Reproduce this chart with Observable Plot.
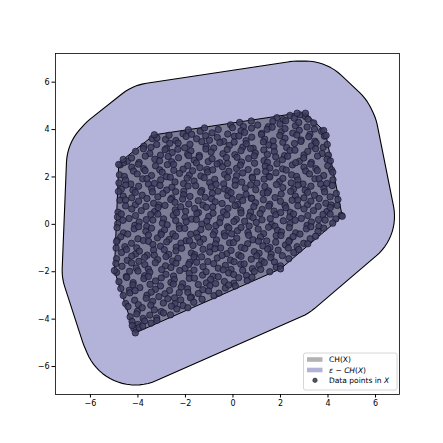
<!DOCTYPE html>
<html><head><meta charset="utf-8">
<script src="https://cdn.jsdelivr.net/npm/d3@7"></script>
<script src="https://cdn.jsdelivr.net/npm/@observablehq/plot@0.6"></script>
<style>body{margin:0;background:#fff;} svg{display:block}</style>
</head><body><div id="chart"></div>
<script>
// Convex hull CH(X) vertices (clockwise)
const hullX = [-3.31, 2.70, 3.05, 3.82, 3.92, 4.60, 2.00, -4.11, -4.24, -4.99, -4.81, -4.62];
const hullY = [ 3.78, 4.69, 4.69, 3.96, 3.75, 0.34, -1.88, -4.58, -4.27, -1.95, 2.53, 2.74];
const eps = 2.2;
const xTicks = [-6, -4, -2, 0, 2, 4, 6];
const yTicks = [-6, -4, -2, 0, 2, 4, 6];
const legendLabels = ["CH(X)", "ε − CH(X)", "Data points in X"];
// Data points in X
const points = [
[1.85,4.5],[2.12,4.42],[2.4,4.6],[2.58,4.48],[2.83,4.62],[3.05,4.55],[3.16,4.44],
[-0.1,4.2],[0.28,4.3],[0.44,4.13],[0.77,4.36],[1.04,4.19],[1.49,4.12],[1.68,4.35],[1.98,4.23],[2.22,4.37],[2.63,4.16],[2.77,4.3],[3.12,4.11],[3.4,4.28],
[-2.1,3.82],[-1.88,3.99],[-1.38,3.93],[-1.2,4.07],[-0.88,3.86],[-0.62,4.0],[-0.22,3.81],[-0.02,4.08],[0.34,3.95],[0.49,3.88],[0.78,4.06],[1.21,3.84],[1.44,4.01],[1.65,4.1],[2.03,3.91],[2.19,4.04],[2.52,3.85],[2.79,3.97],[3.24,3.8],[3.43,4.02],[3.73,3.93],
[-3.4,3.62],[-3.2,3.65],[-2.84,3.58],[-2.69,3.76],[-2.4,3.54],[-1.97,3.71],[-1.74,3.8],[-1.53,3.61],[-1.15,3.74],[-0.99,3.55],[-0.66,3.67],[-0.39,3.5],[0.06,3.72],[0.25,3.73],[0.55,3.53],[0.79,3.68],[1.2,3.79],[1.34,3.59],[1.69,3.52],[1.97,3.75],[2.19,3.63],[2.69,3.77],[2.87,3.56],[3.19,3.7],[3.45,3.51],[3.85,3.72],
[-3.75,3.3],[-3.45,3.25],[-3.21,3.37],[-2.8,3.2],[-2.66,3.42],[-2.31,3.43],[-2.03,3.23],[-1.81,3.38],[-1.31,3.49],[-1.13,3.29],[-0.81,3.22],[-0.55,3.45],[-0.15,3.33],[0.05,3.47],[0.41,3.26],[0.56,3.4],[0.85,3.21],[1.28,3.48],[1.51,3.35],[1.72,3.28],[2.1,3.46],[2.26,3.24],[2.59,3.41],[2.86,3.5],[3.31,3.31],[3.5,3.44],[3.8,3.25],[3.97,3.37],
[-4.1,3.08],[-3.77,3.19],[-3.5,2.99],[-3.05,2.92],[-2.86,3.15],[-2.56,3.03],[-2.32,3.17],[-1.91,2.96],[-1.77,3.1],[-1.42,2.91],[-1.14,3.18],[-0.92,3.05],[-0.42,2.98],[-0.24,3.16],[0.08,2.94],[0.34,3.11],[0.74,3.2],[0.94,3.01],[1.3,3.14],[1.45,2.95],[1.74,3.07],[2.17,2.9],[2.4,3.12],[2.61,3.13],[2.99,2.93],[3.15,3.08],[3.48,3.19],[3.75,2.99],[4.02,2.92],
[-4.45,2.66],[-4.27,2.8],[-3.95,2.61],[-3.69,2.88],[-3.29,2.75],[-3.09,2.68],[-2.73,2.86],[-2.58,2.64],[-2.29,2.81],[-1.86,2.9],[-1.63,2.71],[-1.42,2.84],[-1.04,2.65],[-0.88,2.77],[-0.55,2.6],[-0.28,2.82],[0.17,2.83],[0.36,2.63],[0.66,2.78],[0.9,2.89],[1.31,2.69],[1.45,2.62],[1.8,2.85],[2.08,2.73],[2.3,2.87],[2.8,2.66],[2.98,2.8],[3.3,2.61],[3.56,2.88],[3.96,2.75],[4.1,2.68],
[-4.75,2.51],[-4.61,2.6],[-4.26,2.41],[-3.98,2.54],[-3.76,2.35],[-3.26,2.47],[-3.08,2.3],[-2.76,2.52],[-2.5,2.53],[-2.1,2.33],[-1.9,2.48],[-1.54,2.59],[-1.39,2.39],[-1.1,2.32],[-0.67,2.55],[-0.44,2.43],[-0.23,2.57],[0.15,2.36],[0.31,2.5],[0.64,2.31],[0.91,2.58],[1.36,2.45],[1.55,2.38],[1.85,2.56],[2.09,2.34],[2.5,2.51],[2.64,2.6],[2.99,2.41],[3.27,2.54],[3.49,2.35],[3.99,2.47],[4.15,2.3],
[-4.78,2.09],[-4.57,2.02],[-4.19,2.25],[-4.03,2.13],[-3.7,2.27],[-3.43,2.06],[-2.98,2.2],[-2.79,2.01],[-2.49,2.28],[-2.25,2.15],[-1.84,2.08],[-1.7,2.26],[-1.35,2.04],[-1.07,2.21],[-0.85,2.3],[-0.35,2.11],[-0.17,2.24],[0.15,2.05],[0.41,2.17],[0.81,2.0],[1.01,2.22],[1.37,2.23],[1.52,2.03],[1.81,2.18],[2.24,2.29],[2.47,2.09],[2.68,2.02],[3.06,2.25],[3.22,2.13],[3.55,2.27],[3.82,2.06],[4.2,2.2],
[-4.8,1.75],[-4.52,1.87],[-4.3,1.7],[-3.8,1.92],[-3.62,1.93],[-3.3,1.73],[-3.04,1.88],[-2.64,1.99],[-2.44,1.79],[-2.08,1.72],[-1.93,1.95],[-1.64,1.83],[-1.21,1.97],[-0.98,1.76],[-0.77,1.9],[-0.39,1.71],[-0.23,1.98],[0.1,1.85],[0.37,1.78],[0.82,1.96],[1.01,1.74],[1.31,1.91],[1.55,2.0],[1.96,1.81],[2.1,1.94],[2.45,1.75],[2.73,1.87],[2.95,1.7],[3.45,1.92],[3.63,1.93],[3.95,1.73],[4.21,1.88],
[-4.7,1.48],[-4.51,1.66],[-4.21,1.44],[-3.97,1.61],[-3.56,1.7],[-3.42,1.51],[-3.07,1.64],[-2.79,1.45],[-2.57,1.57],[-2.07,1.4],[-1.89,1.62],[-1.57,1.63],[-1.31,1.43],[-0.91,1.58],[-0.71,1.69],[-0.35,1.49],[-0.2,1.42],[0.09,1.65],[0.52,1.53],[0.75,1.67],[0.96,1.46],[1.34,1.6],[1.5,1.41],[1.83,1.68],[2.1,1.55],[2.55,1.48],[2.74,1.66],[3.04,1.44],[3.28,1.61],[3.69,1.7],[3.83,1.51],[4.18,1.64],
[-4.82,1.39],[-4.62,1.19],[-4.26,1.12],[-4.11,1.35],[-3.82,1.23],[-3.39,1.37],[-3.16,1.16],[-2.95,1.3],[-2.57,1.11],[-2.41,1.38],[-2.08,1.25],[-1.81,1.18],[-1.36,1.36],[-1.17,1.14],[-0.87,1.31],[-0.63,1.4],[-0.22,1.21],[-0.08,1.34],[0.27,1.15],[0.55,1.27],[0.77,1.1],[1.27,1.32],[1.45,1.33],[1.77,1.13],[2.03,1.28],[2.43,1.39],[2.63,1.19],[2.99,1.12],[3.14,1.35],[3.43,1.23],[3.86,1.37],[4.09,1.16],[4.35,1.3],
[-4.76,1.02],[-4.52,1.03],[-4.11,0.83],[-3.97,0.98],[-3.62,1.09],[-3.34,0.89],[-3.12,0.82],[-2.62,1.05],[-2.44,0.93],[-2.12,1.07],[-1.86,0.86],[-1.46,1.0],[-1.26,0.81],[-0.9,1.08],[-0.75,0.95],[-0.46,0.88],[-0.03,1.06],[0.2,0.84],[0.41,1.01],[0.79,1.1],[0.95,0.91],[1.28,1.04],[1.55,0.85],[2.0,0.97],[2.19,0.8],[2.49,1.02],[2.73,1.03],[3.14,0.83],[3.28,0.98],[3.63,1.09],[3.91,0.89],[4.13,0.82],[4.42,1.05],
[-4.84,0.51],[-4.52,0.78],[-4.26,0.65],[-3.86,0.58],[-3.66,0.76],[-3.3,0.54],[-3.15,0.71],[-2.86,0.8],[-2.43,0.61],[-2.2,0.74],[-1.99,0.55],[-1.61,0.67],[-1.45,0.5],[-1.12,0.72],[-0.85,0.73],[-0.4,0.53],[-0.21,0.68],[0.09,0.79],[0.33,0.59],[0.74,0.52],[0.88,0.75],[1.23,0.63],[1.51,0.77],[1.73,0.56],[2.23,0.7],[2.41,0.51],[2.73,0.78],[2.99,0.65],[3.39,0.58],[3.59,0.76],[3.95,0.54],[4.1,0.71],[4.39,0.8],
[-4.86,0.31],[-4.7,0.44],[-4.37,0.25],[-4.1,0.37],[-3.65,0.2],[-3.46,0.42],[-3.16,0.43],[-2.92,0.23],[-2.51,0.38],[-2.37,0.49],[-2.02,0.29],[-1.74,0.22],[-1.52,0.45],[-1.02,0.33],[-0.84,0.47],[-0.52,0.26],[-0.26,0.4],[0.14,0.21],[0.34,0.48],[0.7,0.35],[0.85,0.28],[1.14,0.46],[1.57,0.24],[1.8,0.41],[2.01,0.5],[2.39,0.31],[2.55,0.44],[2.88,0.25],[3.15,0.37],[3.6,0.2],[3.79,0.42],[4.09,0.43],[4.33,0.23],[4.56,0.38],
[-4.85,0.03],[-4.63,0.17],[-4.13,-0.04],[-3.95,0.1],[-3.63,-0.09],[-3.37,0.18],[-2.97,0.05],[-2.77,-0.02],[-2.41,0.16],[-2.26,-0.06],[-1.97,0.11],[-1.54,0.2],[-1.31,0.01],[-1.1,0.14],[-0.72,-0.05],[-0.56,0.07],[-0.23,-0.1],[0.04,0.12],[0.49,0.13],[0.68,-0.07],[0.98,0.08],[1.22,0.19],[1.63,-0.01],[1.77,-0.08],[2.12,0.15],[2.4,0.03],[2.62,0.17],[3.12,-0.04],[3.3,0.1],[3.62,-0.09],[3.88,0.18],[4.2,0.05],
[-4.88,-0.14],[-4.61,-0.36],[-4.16,-0.19],[-3.97,-0.1],[-3.67,-0.29],[-3.43,-0.16],[-3.02,-0.35],[-2.88,-0.23],[-2.53,-0.4],[-2.25,-0.18],[-2.03,-0.17],[-1.53,-0.37],[-1.35,-0.22],[-1.03,-0.11],[-0.77,-0.31],[-0.37,-0.38],[-0.17,-0.15],[0.19,-0.27],[0.34,-0.13],[0.63,-0.34],[1.06,-0.2],[1.29,-0.39],[1.5,-0.12],[1.88,-0.25],[2.04,-0.32],[2.37,-0.14],[2.64,-0.36],[3.09,-0.19],[3.28,-0.1],[3.58,-0.29],[3.82,-0.16],
[-4.87,-0.67],[-4.72,-0.52],[-4.43,-0.41],[-4.0,-0.61],[-3.77,-0.68],[-3.56,-0.45],[-3.18,-0.57],[-3.02,-0.43],[-2.69,-0.64],[-2.42,-0.5],[-1.97,-0.69],[-1.78,-0.42],[-1.48,-0.55],[-1.24,-0.62],[-0.83,-0.44],[-0.69,-0.66],[-0.34,-0.49],[-0.06,-0.4],[0.16,-0.59],[0.66,-0.46],[0.84,-0.65],[1.16,-0.53],[1.42,-0.7],[1.82,-0.48],[2.02,-0.47],[2.38,-0.67],[2.53,-0.52],[2.82,-0.41],[3.25,-0.61],[3.48,-0.5],
[-4.9,-0.73],[-4.55,-0.94],[-4.27,-0.8],[-4.05,-0.99],[-3.55,-0.72],[-3.37,-0.85],[-3.05,-0.92],[-2.79,-0.74],[-2.39,-0.96],[-2.19,-0.79],[-1.83,-0.7],[-1.68,-0.89],[-1.39,-0.76],[-0.96,-0.95],[-0.73,-0.83],[-0.52,-1.0],[-0.14,-0.78],[0.02,-0.77],[0.35,-0.97],[0.62,-0.82],[1.07,-0.71],[1.26,-0.91],[1.56,-0.98],[1.8,-0.75],[2.21,-0.87],[2.35,-0.73],[2.7,-0.94],[2.98,-0.8],[3.15,-0.82],
[-4.92,-1.0],[-4.69,-1.19],[-4.48,-1.06],[-4.1,-1.25],[-3.94,-1.13],[-3.61,-1.3],[-3.34,-1.08],[-2.89,-1.07],[-2.7,-1.27],[-2.4,-1.12],[-2.16,-1.01],[-1.75,-1.21],[-1.61,-1.28],[-1.26,-1.05],[-0.98,-1.17],[-0.76,-1.03],[-0.26,-1.24],[-0.08,-1.1],[0.24,-1.29],[0.5,-1.02],[0.9,-1.15],[1.1,-1.22],[1.46,-1.04],[1.61,-1.26],[1.9,-1.09],[2.33,-1.0],[2.56,-1.19],[2.77,-1.06],
[-4.9,-1.45],[-4.45,-1.52],[-4.26,-1.34],[-3.96,-1.56],[-3.72,-1.39],[-3.31,-1.3],[-3.17,-1.49],[-2.82,-1.36],[-2.54,-1.55],[-2.32,-1.43],[-1.82,-1.6],[-1.64,-1.38],[-1.32,-1.37],[-1.06,-1.57],[-0.66,-1.42],[-0.46,-1.31],[-0.1,-1.51],[0.05,-1.58],[0.34,-1.35],[0.77,-1.47],[1.0,-1.33],[1.21,-1.54],[1.59,-1.4],[1.75,-1.59],[2.08,-1.32],[2.35,-1.45],
[-4.93,-1.65],[-4.67,-1.77],[-4.27,-1.63],[-4.07,-1.84],[-3.71,-1.7],[-3.56,-1.89],[-3.27,-1.62],[-2.84,-1.75],[-2.61,-1.82],[-2.4,-1.64],[-2.02,-1.86],[-1.86,-1.69],[-1.53,-1.6],[-1.26,-1.79],[-0.81,-1.66],[-0.62,-1.85],[-0.32,-1.73],[-0.08,-1.9],[0.33,-1.68],[0.47,-1.67],[0.82,-1.87],[1.1,-1.72],[1.32,-1.61],[1.82,-1.81],[2.0,-1.75],
[-4.9,-2.03],[-4.49,-2.2],[-4.35,-1.98],[-4.0,-1.97],[-3.72,-2.17],[-3.5,-2.02],[-3.0,-1.91],[-2.82,-2.11],[-2.5,-2.18],[-2.24,-1.95],[-1.84,-2.07],[-1.64,-1.93],[-1.28,-2.14],[-1.13,-2.0],[-0.84,-2.19],[-0.41,-1.92],[-0.18,-2.05],[0.03,-2.12],[0.41,-1.94],[0.57,-2.16],[0.9,-1.99],[1.17,-1.9],[1.55,-2.0],
[-4.8,-2.42],[-4.47,-2.24],[-4.2,-2.46],[-3.75,-2.29],[-3.56,-2.2],[-3.26,-2.39],[-3.02,-2.26],[-2.61,-2.45],[-2.47,-2.33],[-2.12,-2.5],[-1.84,-2.28],[-1.62,-2.27],[-1.12,-2.47],[-0.94,-2.32],[-0.62,-2.21],[-0.36,-2.41],[0.04,-2.48],[0.24,-2.25],[0.6,-2.37],[0.8,-2.23],
[-4.72,-2.71],[-4.36,-2.78],[-4.21,-2.55],[-3.92,-2.67],[-3.49,-2.53],[-3.26,-2.74],[-3.05,-2.6],[-2.67,-2.79],[-2.51,-2.52],[-2.18,-2.65],[-1.91,-2.72],[-1.46,-2.54],[-1.27,-2.76],[-0.97,-2.59],[-0.73,-2.5],[-0.32,-2.69],[-0.18,-2.56],[0.1,-2.6],
[-4.62,-3.0],[-4.34,-2.89],[-4.12,-2.8],[-3.62,-2.99],[-3.44,-2.86],[-3.12,-3.05],[-2.86,-2.93],[-2.46,-3.1],[-2.26,-2.88],[-1.9,-2.87],[-1.75,-3.07],[-1.46,-2.92],[-1.03,-2.81],[-0.8,-3.01],[-0.59,-2.9],
[-4.52,-3.34],[-4.14,-3.2],[-3.98,-3.39],[-3.65,-3.12],[-3.38,-3.25],[-2.93,-3.32],[-2.74,-3.14],[-2.44,-3.36],[-2.2,-3.19],[-1.79,-3.1],[-1.65,-3.29],[-1.3,-3.16],
[-4.42,-3.47],[-4.02,-3.67],[-3.82,-3.52],[-3.46,-3.41],[-3.31,-3.61],[-3.02,-3.68],[-2.59,-3.45],[-2.36,-3.57],[-2.1,-3.43],[-1.9,-3.52],
[-4.33,-3.9],[-4.05,-3.78],[-3.78,-3.97],[-3.5,-3.83],[-3.21,-3.95],[-2.92,-3.74],[-2.63,-3.82],
[-4.25,-4.1],[-4.0,-4.22],[-3.72,-4.08],[-3.45,-4.17],[-3.2,-4.05],
[-4.17,-4.4],[-3.95,-4.35],[-3.8,-4.3],
[-4.81,2.53],[-4.62,2.74],[-3.31,3.78],[2.7,4.69],[3.05,4.69],[3.82,3.96],[3.92,3.75],[4.6,0.34],[2.0,-1.88],[-4.11,-4.58],[-4.24,-4.27],[-4.99,-1.95]
];

// Build polygons: CH(X) and its eps-neighbourhood (Minkowski sum with a disc)
const n = hullX.length;
const inner = hullX.map((x, i) => ({x, y: hullY[i]}));
inner.push(inner[0]);
const outer = [];
for (let i = 0; i < n; i++) {
  const px = hullX[(i - 1 + n) % n], py = hullY[(i - 1 + n) % n];
  const vx = hullX[i], vy = hullY[i];
  const qx = hullX[(i + 1) % n], qy = hullY[(i + 1) % n];
  const a1 = Math.atan2(vx - px, -(vy - py));
  const a2 = Math.atan2(qx - vx, -(qy - vy));
  let d = a2 - a1;
  while (d > Math.PI) d -= 2 * Math.PI;
  while (d <= -Math.PI) d += 2 * Math.PI;
  if (d > 0) d = 0;
  const steps = Math.max(1, Math.ceil(Math.abs(d) / (Math.PI / 36)));
  for (let k = 0; k <= steps; k++) {
    const a = a1 + d * k / steps;
    outer.push({x: vx + eps * Math.cos(a), y: vy + eps * Math.sin(a)});
  }
}
outer.push(outer[0]);
const pts = points.map(([x, y]) => ({x, y}));
const fmt = d => d < 0 ? "\u2212" + (-d) : String(d);

const chart = Plot.plot({
  width: 443, height: 443,
  marginLeft: 55, marginRight: 44, marginTop: 53, marginBottom: 49,
  x: {domain: [-7.47, 7.01]},
  y: {domain: [-7.18, 7.21]},
  style: {fontFamily: "DejaVu Sans, sans-serif", fontSize: "8px", background: "#fff", color: "#000"},
  marks: [
    Plot.line(outer, {x: "x", y: "y", fill: "#b3b3d9", stroke: "#000", strokeWidth: 1.1}),
    Plot.line(inner, {x: "x", y: "y", fill: "#000", fillOpacity: 0.3, stroke: "#000", strokeWidth: 1}),
    Plot.dot(pts, {x: "x", y: "y", r: 3.2, fill: "#3d3d60", fillOpacity: 0.85, stroke: "#15152a", strokeWidth: 0.7}),
    Plot.frame({stroke: "#000", strokeWidth: 0.8}),
    Plot.axisX({ticks: xTicks, tickFormat: fmt, tickSize: 3.5, tickPadding: 2.5, label: null}),
    Plot.axisY({ticks: yTicks, tickFormat: fmt, tickSize: 3.5, tickPadding: 2.5, label: null})
  ]
});
document.getElementById("chart").appendChild(chart);

// Legend (inside axes, lower right)
const svg = d3.select(chart);
const lg = svg.append("g").attr("font-family", "DejaVu Sans, sans-serif").attr("font-size", 7.5).attr("text-anchor", "start");
lg.append("rect").attr("x", 303.5).attr("y", 353).attr("width", 93.5).attr("height", 37).attr("rx", 2)
  .attr("fill", "#fff").attr("fill-opacity", 0.8).attr("stroke", "#cccccc").attr("stroke-width", 0.8);
const rowY = [359.5, 370, 380.3];
lg.append("rect").attr("x", 307).attr("y", rowY[0] - 2.3).attr("width", 15.5).attr("height", 4.6).attr("fill", "#b3b3b3");
lg.append("rect").attr("x", 307).attr("y", rowY[1] - 2.3).attr("width", 15.5).attr("height", 4.6).attr("fill", "#b3b3d9");
lg.append("circle").attr("cx", 315).attr("cy", rowY[2]).attr("r", 2.2).attr("fill", "#555566").attr("stroke", "#222").attr("stroke-width", 0.6);
const t0 = lg.append("text").attr("x", 329).attr("y", rowY[0]).attr("dy", "0.35em").text(legendLabels[0]);
const t1 = lg.append("text").attr("x", 329).attr("y", rowY[1]).attr("dy", "0.35em");
t1.append("tspan").attr("font-style", "italic").text("ε");
t1.append("tspan").text(" − ");
t1.append("tspan").attr("font-style", "italic").text("CH");
t1.append("tspan").text("(");
t1.append("tspan").attr("font-style", "italic").text("X");
t1.append("tspan").text(")");
const t2 = lg.append("text").attr("x", 329).attr("y", rowY[2]).attr("dy", "0.35em");
t2.append("tspan").text("Data points in ");
t2.append("tspan").attr("font-style", "italic").text("X");
</script>
</body></html>
